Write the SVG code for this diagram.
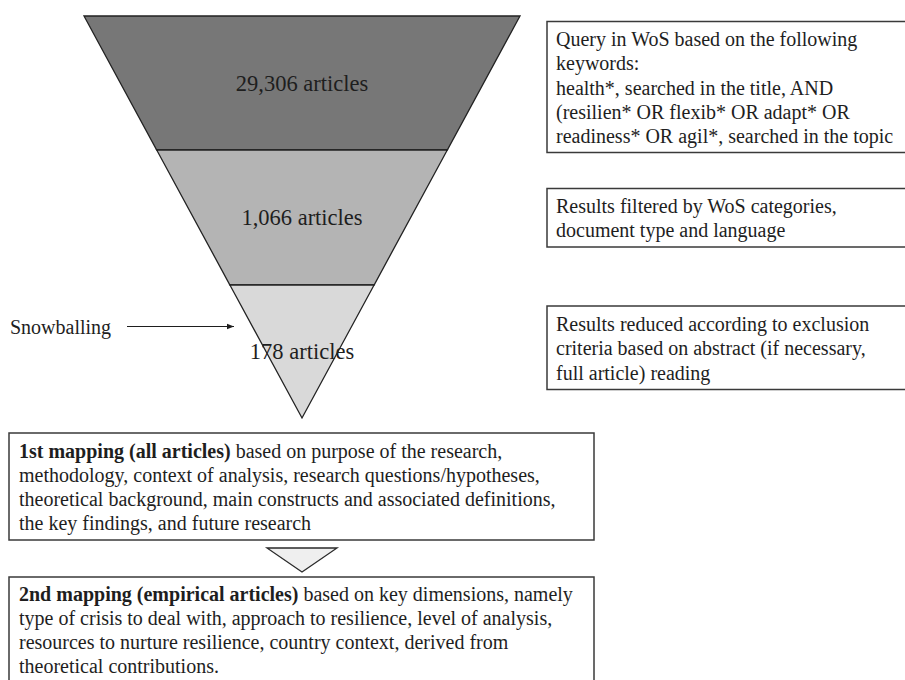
<svg xmlns="http://www.w3.org/2000/svg" width="905" height="680" viewBox="0 0 905 680">
<defs>
<style>
text{font-family:"Liberation Serif","Times New Roman",serif;fill:#1e1e1e;font-size:20px}
.big{font-size:22.5px;text-anchor:middle}
.box{fill:#fff;stroke:#3a3a3a;stroke-width:1.5}
.seg{stroke:#222;stroke-width:1.3;stroke-linejoin:miter}
.b{font-weight:bold}
</style>
<marker id="ah" viewBox="0 0 10 10" refX="10" refY="5" markerWidth="7" markerHeight="7" markerUnits="userSpaceOnUse" orient="auto">
<path d="M0,1 L10,5 L0,9 z" fill="#1e1e1e"/>
</marker>
</defs>
<rect width="905" height="680" fill="#fff"/>

<g id="funnel-top">
<polygon class="seg" points="84,16 520,16 447.3,150 156.7,150" fill="#777777"/>
<text class="big" x="302" y="91">29,306 articles</text>
</g>
<g id="funnel-middle">
<polygon class="seg" points="156.7,150 447.3,150 374.1,285 229.9,285" fill="#b4b4b4"/>
<text class="big" x="302" y="225">1,066 articles</text>
</g>
<g id="funnel-bottom">
<polygon points="229.9,285 374.1,285 302,418" fill="#d9d9d9"/>
<text class="big" x="302" y="359">178 articles</text>
<polygon class="seg" points="229.9,285 374.1,285 302,418" fill="none"/>
</g>

<g id="snowballing">
<text x="10" y="334">Snowballing</text>
</g>

<g id="query-box">
<rect class="box" x="547" y="21.5" width="380" height="131"/>
<text x="556" y="46">Query in WoS based on the following</text>
<text x="556" y="70">keywords:</text>
<text x="556" y="94.5">health*, searched in the title, AND</text>
<text x="556" y="118.5">(resilien* OR flexib* OR adapt* OR</text>
<text x="556" y="143">readiness* OR agil*, searched in the topic</text>
</g>

<g id="filter-box">
<rect class="box" x="547" y="188.5" width="380" height="58.5"/>
<text x="556" y="213">Results filtered by WoS categories,</text>
<text x="556" y="237">document type and language</text>
</g>

<g id="reduce-box">
<rect class="box" x="547" y="306" width="380" height="83.5"/>
<text x="556" y="331">Results reduced according to exclusion</text>
<text x="556" y="355">criteria based on abstract (if necessary,</text>
<text x="556" y="380">full article) reading</text>
</g>

<g id="mapping1">
<rect class="box" x="9" y="433" width="585" height="107"/>
<text x="19" y="458"><tspan class="b">1st mapping (all articles)</tspan> based on purpose of the research,</text>
<text x="19" y="482">methodology, context of analysis, research questions/hypotheses,</text>
<text x="19" y="506">theoretical background, main constructs and associated definitions,</text>
<text x="19" y="530">the key findings, and future research</text>
</g>

<g id="mapping2">
<rect class="box" x="9" y="577" width="585" height="120"/>
<text x="19" y="601"><tspan class="b">2nd mapping (empirical articles)</tspan> based on key dimensions, namely</text>
<text x="19" y="625">type of crisis to deal with, approach to resilience, level of analysis,</text>
<text x="19" y="649">resources to nurture resilience, country context, derived from</text>
<text x="19" y="673">theoretical contributions.</text>
</g>

<g id="connectors">
<line x1="127" y1="326.5" x2="234" y2="326.5" stroke="#1e1e1e" stroke-width="1.2" marker-end="url(#ah)"/>
<polygon points="267,548 337,548 302,572" fill="#efefef" stroke="#2a2a2a" stroke-width="1.3"/>
</g>
</svg>
